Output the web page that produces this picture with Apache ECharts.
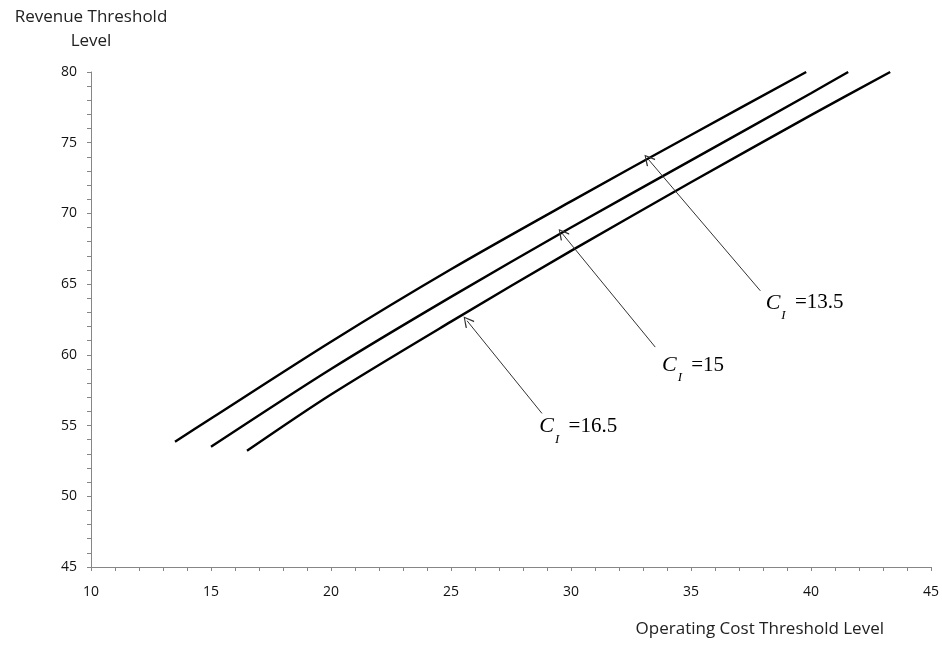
<!DOCTYPE html>
<html>
<head>
<meta charset="utf-8">
<script src="https://cdn.jsdelivr.net/npm/echarts@6/dist/echarts.min.js"></script>
<style>html,body{margin:0;padding:0;background:#fff}#c{width:942px;height:648px}</style>
</head>
<body>
<div id="c"></div>
<script>
// Curve data [operating cost, revenue]
const curveCI135 = [[13.5,53.85],[15,55.5],[20,60.93],[25,66.05],[30,70.85],[35,75.55],[39.8,80]];
const curveCI15  = [[15,53.5],[20,59.0],[25,64.1],[30,69.0],[35,73.75],[40,78.5],[41.55,80]];
const curveCI165 = [[16.5,53.22],[20,57.2],[25,62.35],[30,67.35],[35,72.2],[40,76.95],[43.3,80]];
const ciValues = ['13.5','15','16.5'];
// Annotation arrows: [tail, tip]
const arrowCI135 = [[37.89,64.53],[33.21,73.85]];
const arrowCI15  = [[33.51,60.55],[29.63,68.59]];
const arrowCI165 = [[28.79,55.86],[25.67,62.41]];
// Label anchor (left, middle)
const labelCI135 = [38.11,63.67];
const labelCI15  = [33.79,59.28];
const labelCI165 = [28.68,54.92];

const xTicks = {min:10, max:45, interval:5};
const yTicks = {min:45, max:80, interval:5};

const chevron = 'path://M0,0 L6,9 L5,10 L0,2 L-5,10 L-6,9 Z';

function curveSeries(name, data, arrow, labelPos, ci){
  return {
    name: name, type:'line', data: data, smooth: 0.3, showSymbol:false, symbol:'none',
    lineStyle:{color:'#000', width:2.4}, animation:false, silent:true, z:3,
    markLine:{
      silent:true, animation:false, symbol:['none', chevron], symbolSize:[11,11],
      label:{show:false}, lineStyle:{color:'#333', width:1, type:'solid'},
      data:[[{coord:arrow[0]},{coord:arrow[1]}]]
    },
    markPoint:{
      silent:true, animation:false, symbol:'circle', symbolSize:0,
      data:[{coord:labelPos, value:ci}],
      label:{
        show:true, position:'right', distance:0,
        formatter: '{c|C}{s|I}{e| =' + ci + '}',
        rich:{
          c:{fontFamily:'Liberation Serif', fontStyle:'italic', fontSize:22, color:'#000', lineHeight:26, verticalAlign:'middle'},
          s:{fontFamily:'Liberation Serif', fontStyle:'italic', fontSize:13, color:'#000', lineHeight:26, verticalAlign:'bottom', padding:[0,4,-6,1]},
          e:{fontFamily:'Liberation Serif', fontSize:21, color:'#000', lineHeight:26, verticalAlign:'middle'}
        }
      }
    }
  };
}

const axisCommon = {
  axisLine:{show:true, lineStyle:{color:'#868686', width:1}},
  axisTick:{show:true, inside:false, length:4, lineStyle:{color:'#868686'}},
  minorTick:{show:true, splitNumber:5, length:4, lineStyle:{color:'#868686'}},
  splitLine:{show:false},
  axisLabel:{color:'#111', fontFamily:'Open Sans', fontSize:14}
};

const option = {
  backgroundColor:'#fff',
  animation:false,
  grid:{left:91, right:11, top:72, bottom:81, containLabel:false},
  xAxis: Object.assign({}, axisCommon, {
    type:'value', min:xTicks.min, max:xTicks.max, interval:xTicks.interval,
    name:'Operating Cost Threshold Level', nameLocation:'end', nameGap:-47,
    nameTextStyle:{fontFamily:'Open Sans', fontSize:17, color:'#222', align:'right', verticalAlign:'top', padding:[54,0,0,0]},
    axisLabel:Object.assign({}, axisCommon.axisLabel, {margin:18})
  }),
  yAxis: Object.assign({}, axisCommon, {
    type:'value', min:yTicks.min, max:yTicks.max, interval:yTicks.interval,
    name:'Revenue Threshold\nLevel', nameLocation:'end', nameGap:19,
    nameTextStyle:{fontFamily:'Open Sans', fontSize:17, color:'#222', align:'center', lineHeight:24},
    axisLabel:Object.assign({}, axisCommon.axisLabel, {margin:14})
  }),
  series:[
    curveSeries('CI=13.5', curveCI135, arrowCI135, labelCI135, ciValues[0]),
    curveSeries('CI=15', curveCI15, arrowCI15, labelCI15, ciValues[1]),
    curveSeries('CI=16.5', curveCI165, arrowCI165, labelCI165, ciValues[2])
  ]
};
const chart = echarts.init(document.getElementById('c'), null, {renderer:'canvas'});
chart.setOption(option);
</script>
</body>
</html>
